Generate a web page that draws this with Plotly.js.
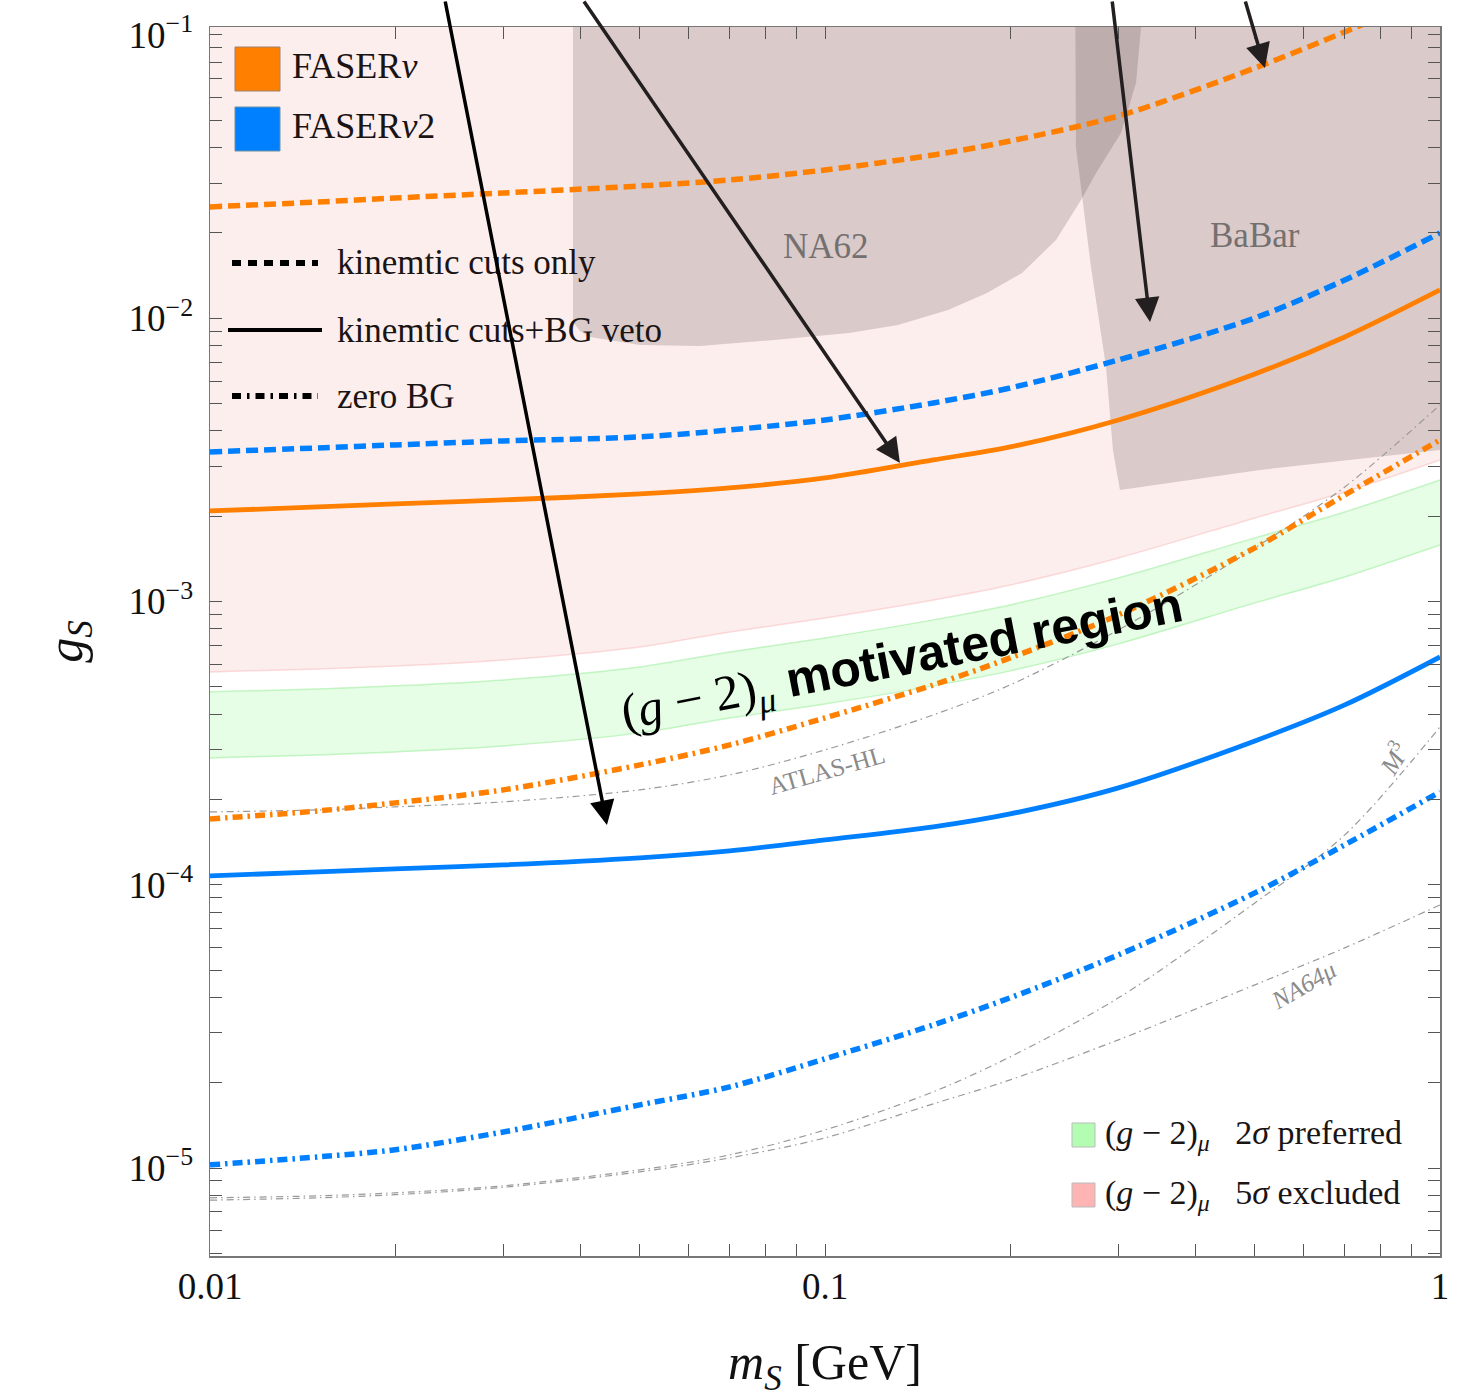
<!DOCTYPE html>
<html><head><meta charset="utf-8">
<script src="https://cdn.plot.ly/plotly-3.0.1.min.js"></script>
<style>body{margin:0;background:#fff}</style>
</head><body>
<div id="chart" style="width:1476px;height:1398px"></div>
<script>
// ---- data ----
const mS = [0.01,0.015,0.02,0.03,0.05,0.07,0.1,0.15,0.2,0.3,0.5,0.7,1.0];
const faserNuKin   = [0.02472,0.02573,0.02658,0.02769,0.02931,0.03078,0.03338,0.03771,0.04224,0.05177,0.07646,0.1025,0.1418];
const faserNu2Kin  = [3.374e-3,3.485e-3,3.571e-3,3.689e-3,3.811e-3,4.034e-3,4.375e-3,5.024e-3,5.675e-3,7.125e-3,1.0025e-2,1.365e-2,2.0e-2];
const faserNuVeto  = [2.088e-3,2.157e-3,2.210e-3,2.283e-3,2.397e-3,2.518e-3,2.730e-3,3.161e-3,3.513e-3,4.375e-3,6.358e-3,8.590e-3,1.259e-2];
const faserNu2Veto = [1.075e-4,1.110e-4,1.138e-4,1.175e-4,1.244e-4,1.317e-4,1.440e-4,1.601e-4,1.779e-4,2.198e-4,3.220e-4,4.315e-4,6.373e-4];
const faserNuZero  = [1.708e-4,1.823e-4,1.946e-4,2.163e-4,2.649e-4,3.117e-4,3.882e-4,5.077e-4,6.322e-4,8.969e-4,1.546e-3,2.378e-3,3.719e-3];
const faserNu2Zero = [1.026e-5,1.095e-5,1.160e-5,1.341e-5,1.671e-5,1.934e-5,2.429e-5,3.202e-5,3.990e-5,5.656e-5,9.363e-5,1.383e-4,2.128e-4];
const g2PrefUpper  = [4.797e-4,4.915e-4,5.037e-4,5.288e-4,5.876e-4,6.638e-4,7.438e-4,8.613e-4,9.727e-4,1.212e-3,1.677e-3,2.071e-3,2.686e-3];
const g2PrefLower  = [2.805e-4,2.874e-4,2.945e-4,3.092e-4,3.437e-4,3.882e-4,4.349e-4,5.037e-4,5.689e-4,7.085e-4,9.888e-4,1.221e-3,1.584e-3];
const g2ExclEdge   = [5.643e-4,5.783e-4,5.925e-4,6.221e-4,6.913e-4,7.810e-4,8.753e-4,1.013e-3,1.144e-3,1.425e-3,1.973e-3,2.437e-3,3.161e-3];
const atlasHL      = [1.808e-4,1.838e-4,1.884e-4,1.962e-4,2.163e-4,2.443e-4,2.993e-4,3.978e-4,5.077e-4,7.937e-4,1.546e-3,2.538e-3,4.943e-3];
const m3           = [7.848e-6,7.977e-6,8.174e-6,8.654e-6,9.854e-6,1.113e-5,1.363e-5,1.858e-5,2.469e-5,3.988e-5,8.630e-5,1.500e-4,3.609e-4];
const na64mu       = [7.70e-6,7.85e-6,8.05e-6,8.55e-6,9.696e-6,1.086e-5,1.278e-5,1.685e-5,2.047e-5,2.835e-5,4.432e-5,5.987e-5,8.492e-5];
const regionTop    = 0.2;
const na62X = [0.03892,0.03892,0.04000,0.04149,0.05003,0.06262,0.08264,0.1094,0.1314,0.1585,0.1834,0.2091,0.2375,0.2608,0.2759,0.3029,0.3204,0.3351];
const na62Y = [0.2,9.703e-3,9.0e-3,8.590e-3,8.047e-3,7.981e-3,8.381e-3,8.873e-3,9.470e-3,1.070e-2,1.228e-2,1.445e-2,1.889e-2,2.616e-2,3.257e-2,4.509e-2,6.770e-2,0.2];
const babarX = [0.2550,0.2559,0.2707,0.2864,0.2939,0.3017,0.5096,1.0,1.0];
const babarY = [0.2,4.024e-2,1.517e-2,6.731e-3,3.428e-3,2.476e-3,2.913e-3,3.428e-3,0.2];
const arrowTipX = [0.0442,0.1324,0.3377,0.5192];
const arrowTipY = [1.627e-4,3.085e-3,9.703e-3,0.07646];
const xTickVals = [0.01,0.1,1];
const xTickText = ['0.01','0.1','1'];
const yTickVals = [1e-5,1e-4,1e-3,1e-2,1e-1];
const yTickText = ['10<sup>−5</sup>','10<sup>−4</sup>','10<sup>−3</sup>','10<sup>−2</sup>','10<sup>−1</sup>'];

// ---- styles ----
const ORANGE = '#ff8000', BLUE = '#0080ff';
const SERIF = 'Liberation Serif, DejaVu Serif, serif';
const DASH_KIN = '12px,6px';
const DASH_ZERO = '10px,5px,2.5px,5px';
const DASH_THIN = '7px,4px,1.5px,4px';

function minorVals(lo, hi){
  const v=[]; for(let e=lo;e<=hi;e++){for(let d=2;d<=9;d++){v.push(d*Math.pow(10,e));}} return v;
}
const yMinor = minorVals(-6,-2).filter(v=>v>=4.9e-6 && v<=0.107);
const xMinor = minorVals(-2,-1);

const sp = {shape:'spline', smoothing:0.9};
const traces = [
  {x:mS, y:mS.map(()=>regionTop), mode:'lines', line:{width:0}, hoverinfo:'skip'},
  {x:mS, y:g2ExclEdge, mode:'lines', fill:'tonexty', fillcolor:'rgba(250,200,200,0.30)', line:Object.assign({color:'rgba(248,195,195,0.6)', width:1.5}, sp), hoverinfo:'skip'},
  {x:na62X, y:na62Y, mode:'lines', fill:'toself', fillcolor:'rgba(70,50,50,0.19)', line:{width:0}, hoverinfo:'skip'},
  {x:babarX, y:babarY, mode:'lines', fill:'toself', fillcolor:'rgba(70,50,50,0.19)', line:{width:0}, hoverinfo:'skip'},
  {x:mS, y:g2PrefLower, mode:'lines', line:Object.assign({color:'rgba(150,235,150,0.5)', width:1.5}, sp), hoverinfo:'skip'},
  {x:mS, y:g2PrefUpper, mode:'lines', fill:'tonexty', fillcolor:'rgba(150,250,150,0.25)', line:Object.assign({color:'rgba(150,235,150,0.5)', width:1.5}, sp), hoverinfo:'skip'},
  {x:mS, y:atlasHL, mode:'lines', line:Object.assign({color:'#9a9a9a', width:1.2, dash:DASH_THIN}, sp)},
  {x:mS, y:m3, mode:'lines', line:Object.assign({color:'#9a9a9a', width:1.2, dash:DASH_THIN}, sp)},
  {x:mS, y:na64mu, mode:'lines', line:Object.assign({color:'#9a9a9a', width:1.2, dash:DASH_THIN}, sp)},
  {x:mS, y:faserNuKin, mode:'lines', name:'FASERν kin', line:Object.assign({color:ORANGE, width:5.5, dash:DASH_KIN}, sp)},
  {x:mS, y:faserNu2Kin, mode:'lines', name:'FASERν2 kin', line:Object.assign({color:BLUE, width:5.5, dash:DASH_KIN}, sp)},
  {x:mS, y:faserNuVeto, mode:'lines', name:'FASERν veto', line:Object.assign({color:ORANGE, width:4.8}, sp)},
  {x:mS, y:faserNu2Veto, mode:'lines', name:'FASERν2 veto', line:Object.assign({color:BLUE, width:4.8}, sp)},
  {x:mS, y:faserNuZero, mode:'lines', name:'FASERν zero BG', line:Object.assign({color:ORANGE, width:5.5, dash:DASH_ZERO}, sp)},
  {x:mS, y:faserNu2Zero, mode:'lines', name:'FASERν2 zero BG', line:Object.assign({color:BLUE, width:5.5, dash:DASH_ZERO}, sp)}
];

const px2x = px => (px-210)/1230;
const py2y = py => (1256-py)/1229;

const shapes = [
  {type:'rect', xref:'paper', yref:'paper', x0:px2x(235), x1:px2x(280), y0:py2y(91), y1:py2y(47), fillcolor:ORANGE, line:{color:'#a08070', width:1}},
  {type:'rect', xref:'paper', yref:'paper', x0:px2x(235), x1:px2x(280), y0:py2y(151), y1:py2y(107), fillcolor:BLUE, line:{color:'#7090a0', width:1}},
  {type:'line', xref:'paper', yref:'paper', x0:px2x(232), x1:px2x(318), y0:py2y(263), y1:py2y(263), line:{color:'#000', width:6, dash:'9px,7px'}},
  {type:'line', xref:'paper', yref:'paper', x0:px2x(228), x1:px2x(322), y0:py2y(330), y1:py2y(330), line:{color:'#000', width:4}},
  {type:'line', xref:'paper', yref:'paper', x0:px2x(232), x1:px2x(318), y0:py2y(396), y1:py2y(396), line:{color:'#000', width:6, dash:'9px,6px,2.5px,6px'}},
  {type:'rect', xref:'paper', yref:'paper', x0:px2x(1072), x1:px2x(1095), y0:py2y(1147), y1:py2y(1123), fillcolor:'#b3fdb3', line:{color:'#bbbbbb', width:1}},
  {type:'rect', xref:'paper', yref:'paper', x0:px2x(1072), x1:px2x(1095), y0:py2y(1207), y1:py2y(1183), fillcolor:'#ffb4b4', line:{color:'#bbbbbb', width:1}}
];

const txt = (text, px, py, size, opts) => Object.assign({
  text:text, xref:'paper', yref:'paper', x:px2x(px), y:py2y(py), showarrow:false,
  xanchor:'left', yanchor:'middle', font:{family:SERIF, size:size, color:'#1a1414'}
}, opts||{});
const GRAYLBL = '#8a8a8a';
const annotations = [
  txt('FASER<i>ν</i>', 290, 66, 36),
  txt('FASER<i>ν</i>2', 290, 126, 36),
  txt('kinemtic cuts only', 335, 263, 35),
  txt('kinemtic cuts+BG veto', 335, 330, 35),
  txt('zero BG', 335, 396, 35),
  txt('(<i>g</i> − 2)<sub><i>μ</i></sub>   2<i>σ</i> preferred', 1103, 1135, 34),
  txt('(<i>g</i> − 2)<sub><i>μ</i></sub>   5<i>σ</i> excluded', 1103, 1195, 34),
  txt('NA62', 826, 247, 35, {xanchor:'center', font:{family:SERIF, size:35, color:'#747070'}}),
  txt('BaBar', 1255, 235, 35, {xanchor:'center', font:{family:SERIF, size:35, color:'#747070'}}),
  txt('ATLAS-HL', 826, 770, 25, {xanchor:'center', textangle:-16, font:{family:SERIF, size:25, color:GRAYLBL}}),
  txt('<i>M</i><sup>3</sup>', 1393, 758, 26, {xanchor:'center', textangle:-58, font:{family:SERIF, size:26, color:GRAYLBL}}),
  txt('<i>NA64μ</i>', 1303, 985, 25, {xanchor:'center', textangle:-30, font:{family:SERIF, size:25, color:GRAYLBL}}),
  txt('<span style="font-family:Liberation Serif">(<i>g</i> − 2)<sub><i>μ</i></sub></span> <b>motivated region</b>', 903, 662, 50,
      {xanchor:'center', textangle:-11, font:{family:'Liberation Sans, Arial, sans-serif', size:50, color:'#000'}})
];
const arrowAx = [-162,-317,-38,-20];
const arrowAy = [-825,-463,-322,-68];
const arrowCol = ['#000','#231f20','#231f20','#231f20'];
arrowTipX.forEach((xv,i)=>{
  annotations.push({x:Math.log10(xv), y:Math.log10(arrowTipY[i]), xref:'x', yref:'y', text:'',
    showarrow:true, arrowhead:2, arrowsize:1.4, arrowwidth:3.5, arrowcolor:arrowCol[i],
    ax:arrowAx[i], ay:arrowAy[i], axref:'pixel', ayref:'pixel', standoff:0});
});

const layout = {
  width:1476, height:1398,
  margin:{l:210, r:36, t:27, b:142},
  paper_bgcolor:'#fff', plot_bgcolor:'#fff',
  showlegend:false,
  font:{family:SERIF, color:'#000'},
  xaxis:{type:'log', range:[-2,0], tickmode:'array', tickvals:xTickVals, ticktext:xTickText,
    ticks:'inside', ticklen:12, tickcolor:'#555', tickwidth:1,
    minor:{tickmode:'array', tickvals:xMinor, ticks:'inside', ticklen:12, tickcolor:'#555', tickwidth:1, showgrid:false},
    showline:true, linecolor:'#777', linewidth:1.5, mirror:'ticks', showgrid:false, zeroline:false,
    tickfont:{family:SERIF, size:37, color:'#111'}, ticklabelstandoff:-3,
    title:{text:'<i>m</i><sub><i>S</i></sub> [GeV]', font:{family:SERIF, size:50, color:'#111'}, standoff:45}},
  yaxis:{type:'log', range:[-5.3106,-0.9718], tickmode:'array', tickvals:yTickVals, ticktext:yTickText,
    ticks:'inside', ticklen:12, tickcolor:'#555', tickwidth:1,
    minor:{tickmode:'array', tickvals:yMinor, ticks:'inside', ticklen:12, tickcolor:'#555', tickwidth:1, showgrid:false},
    showline:true, linecolor:'#777', linewidth:1.5, mirror:'ticks', showgrid:false, zeroline:false,
    tickfont:{family:SERIF, size:37, color:'#111'}, ticklabelstandoff:8,
    title:{text:'<i>g</i><sub><i>S</i></sub>', font:{family:SERIF, size:50, color:'#111'}, standoff:30}},
  shapes:shapes, annotations:annotations
};
Plotly.newPlot('chart', traces, layout, {staticPlot:true});
</script>
</body></html>
